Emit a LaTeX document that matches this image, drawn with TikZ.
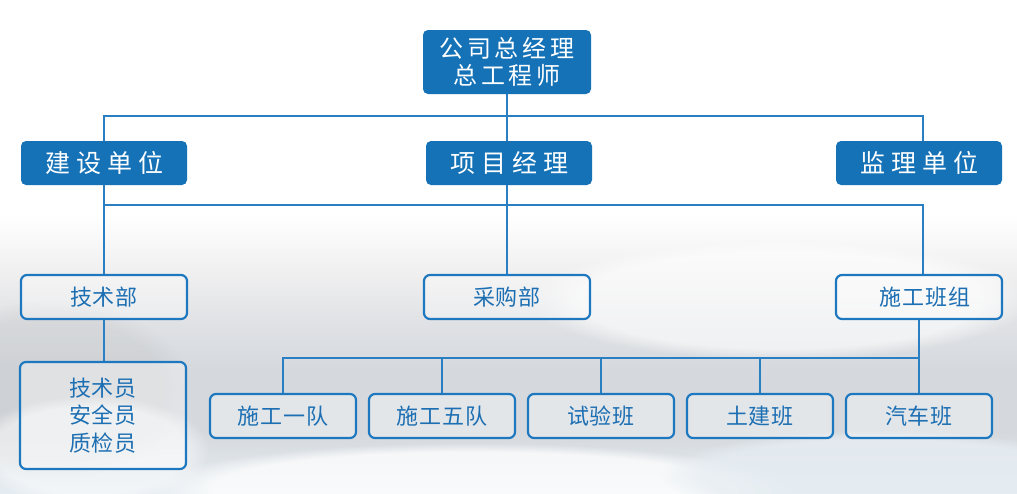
\documentclass[tikz,border=0pt]{standalone}
\usepackage{fontspec}
\setmainfont{Noto Sans CJK SC}
\newfontfamily\cjkA[LetterSpace=16]{Noto Sans CJK SC}
\newfontfamily\cjkB[LetterSpace=24]{Noto Sans CJK SC}
\newfontfamily\cjkC[LetterSpace=4]{Noto Sans CJK SC}
\usetikzlibrary{fadings}
\definecolor{hdblue}{HTML}{1572B7}
\definecolor{lnblue}{HTML}{2A7EC2}
\definecolor{bdblue}{HTML}{1E78C0}
\definecolor{txblue}{HTML}{1D6FB3}
\definecolor{bgA}{HTML}{E6EDF2}
\definecolor{bgB}{HTML}{D5D9DE}
\definecolor{bgC}{HTML}{E0E2E5}
\definecolor{bgD}{HTML}{F4F3F3}
% visible part of the shading is 25bp (bottom of the rectangle) .. 75bp (top)
\pgfdeclareverticalshading{bgshade}{100bp}{color(0bp)=(bgA); color(25bp)=(bgA); color(36bp)=(bgB); color(47bp)=(bgB); color(56bp)=(bgC); color(67bp)=(bgD); color(75bp)=(white); color(100bp)=(white)}
\tikzset{
  head/.style={rectangle, rounded corners=5pt, fill=hdblue, text=white, inner sep=0pt, align=center},
  sub/.style={rectangle, rounded corners=6pt, draw=bdblue, line width=2.2pt, fill=white, fill opacity=0.35, text opacity=1, text=txblue, inner sep=0pt, align=center, minimum width=166pt, minimum height=44pt, font=\fontsize{22}{27.5}\cjkC},
  team/.style={sub, minimum width=146pt},
  conn/.style={draw=lnblue, line width=1.7pt}
}
\begin{document}
\begin{tikzpicture}[x=1pt,y=-1pt]
\useasboundingbox (0,0) rectangle (1017,493);
% background
\fill[white] (0,0) rectangle (1017,493);
\shade[shading=bgshade] (0,215) rectangle (1017,493);
\fill[white, opacity=0.6, path fading=circle with fuzzy edge 20 percent] (780,300) ellipse (250 and 60);
\fill[gray!60, opacity=0.2, path fading=circle with fuzzy edge 20 percent] (50,390) ellipse (140 and 90);
\fill[white, opacity=0.75, path fading=circle with fuzzy edge 20 percent] (470,488) ellipse (320 and 45);
\fill[white, opacity=0.5, path fading=circle with fuzzy edge 20 percent] (90,450) ellipse (120 and 55);
\fill[bgA, opacity=0.8, path fading=circle with fuzzy edge 20 percent] (880,475) ellipse (220 and 45);
% nodes
\node[head, minimum width=168pt, minimum height=64pt, font=\fontsize{24}{27}\cjkA] (top) at (507,62)
  {公司总经理\\ 总工程师};
\node[head, minimum width=166pt, minimum height=44pt, font=\fontsize{25}{28}\cjkB] (js) at (104,163) {建设单位};
\node[head, minimum width=166pt, minimum height=44pt, font=\fontsize{25}{28}\cjkB] (pm) at (509,163) {项目经理};
\node[head, minimum width=166pt, minimum height=44pt, font=\fontsize{25}{28}\cjkB] (jl) at (919,163) {监理单位};
\node[sub] (tech) at (104,297) {技术部};
\node[sub] (buy) at (507,297) {采购部};
\node[sub] (grp) at (919,297) {\hspace{12pt}施工班组};
\node[sub, minimum height=107pt] (staff) at (103,415.5) {技术员\\ 安全员\\ 质检员};
\node[team] (t1) at (283,416) {施工一队};
\node[team] (t5) at (442,416) {施工五队};
\node[team] (sy) at (601,416) {试验班};
\node[team] (tj) at (760,416) {土建班};
\node[team] (qc) at (919,416) {汽车班};
% bus points
\coordinate (bus1) at (507,116);
\coordinate (bus2) at (507,205);
\coordinate (bus3) at (600,358);
% connectors
\draw[conn] (top.south) -- (bus1);
\draw[conn] (js.north) |- (bus1) -| ([xshift=4pt]jl.north);
\draw[conn] (bus1) -- ([xshift=-2pt]pm.north);
\draw[conn] (js.south) -- (tech.north);
\draw[conn] ([xshift=-2pt]pm.south) -- (buy.north);
\draw[conn] (js.south |- bus2) -| ([xshift=4pt]grp.north);
\draw[conn] (tech.south) -- ([xshift=1pt]staff.north);
\draw[conn] (grp.south) -- (qc.north);
\draw[conn] (t1.north) |- (bus3) -| (grp.south);
\draw[conn] (t5.north) -- (t5.north |- bus3);
\draw[conn] (sy.north) -- (sy.north |- bus3);
\draw[conn] (tj.north) -- (tj.north |- bus3);
\end{tikzpicture}
\end{document}
